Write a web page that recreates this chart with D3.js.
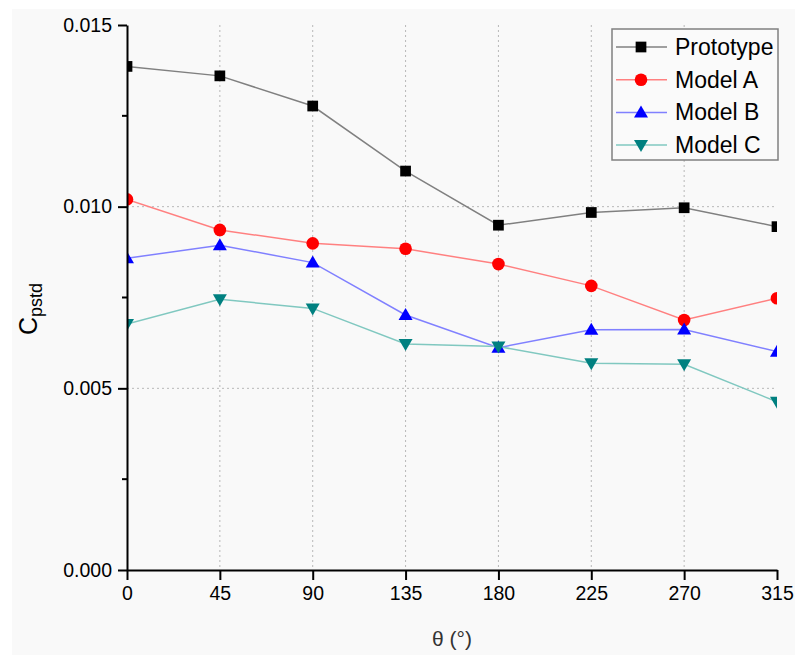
<!DOCTYPE html>
<html>
<head>
<meta charset="utf-8">
<script src="https://cdn.jsdelivr.net/npm/d3@7"></script>
<style>
  body { margin: 0; background: #fff; }
  text { font-family: "Liberation Sans", Arial, sans-serif; }
</style>
</head>
<body>
<div id="chart"></div>
<script>
// angles (deg) and Cpstd values
var angles = [0, 45, 90, 135, 180, 225, 270, 315];
var prototype = [0.01386, 0.01360, 0.01277, 0.01098, 0.00949, 0.00984, 0.00997, 0.00945];
var modelA = [0.01020, 0.00936, 0.00899, 0.00884, 0.00842, 0.00782, 0.00688, 0.00748];
var modelB = [0.00858, 0.00894, 0.00846, 0.00702, 0.00612, 0.00661, 0.00662, 0.00601];
var modelC = [0.00677, 0.00745, 0.00720, 0.00622, 0.00615, 0.00569, 0.00566, 0.00463];
var yTicks = [0.000, 0.005, 0.010, 0.015];
var seriesNames = ["Prototype", "Model A", "Model B", "Model C"];

var series = [
  { name: seriesNames[0], values: prototype, line: "#808080", fill: "#000000", shape: "square" },
  { name: seriesNames[1], values: modelA, line: "#ff8080", fill: "#ff0000", shape: "circle" },
  { name: seriesNames[2], values: modelB, line: "#8080ff", fill: "#0000ff", shape: "up" },
  { name: seriesNames[3], values: modelC, line: "#80c8c0", fill: "#008080", shape: "down" }
];

var W = 795, H = 655;
var pL = 127, pR = 777, pT = 25, pB = 570;

var svg = d3.select("#chart").append("svg").attr("width", W).attr("height", H);

svg.append("rect").attr("x", 12).attr("y", 9).attr("width", W - 12).attr("height", H - 9)
  .attr("fill", "#f9f9f9");

var x = d3.scaleLinear().domain([0, 315]).range([pL, pR]);
var y = d3.scaleLinear().domain([0, 0.015]).range([pB, pT]);

svg.append("defs").append("clipPath").attr("id", "clip")
  .append("rect").attr("x", pL).attr("y", pT).attr("width", pR - pL).attr("height", pB - pT);

// grid
var grid = svg.append("g");
grid.selectAll("line.vg").data(angles.slice(1, -1)).enter().append("line")
  .attr("x1", function(d) { return x(d); }).attr("x2", function(d) { return x(d); })
  .attr("y1", pT).attr("y2", pB)
  .attr("stroke", "#b8b8b8").attr("stroke-width", 1).attr("stroke-dasharray", "2,3");
grid.selectAll("line.hg").data([0.005, 0.010]).enter().append("line")
  .attr("x1", pL).attr("x2", pR)
  .attr("y1", function(d) { return y(d); }).attr("y2", function(d) { return y(d); })
  .attr("stroke", "#b8b8b8").attr("stroke-width", 1).attr("stroke-dasharray", "2,3");

// symbols
function symbolPath(shape) {
  if (shape === "square") return d3.symbol().type(d3.symbolSquare).size(115)();
  if (shape === "circle") return d3.symbol().type(d3.symbolCircle).size(125)();
  if (shape === "up") return "M0,-7L7,5L-7,5Z";
  return "M-7,-5L7,-5L0,7Z";
}

var plot = svg.append("g").attr("clip-path", "url(#clip)");
var line = d3.line().x(function(d, i) { return x(angles[i]); }).y(function(d) { return y(d); });

series.forEach(function(s) {
  plot.append("path").datum(s.values).attr("d", line)
    .attr("fill", "none").attr("stroke", s.line).attr("stroke-width", 1.5);
});
series.forEach(function(s) {
  plot.selectAll(null).data(s.values).enter().append("path")
    .attr("transform", function(d, i) { return "translate(" + x(angles[i]) + "," + y(d) + ")"; })
    .attr("d", symbolPath(s.shape))
    .attr("fill", s.fill);
});

// axes
var xAxis = d3.axisBottom(x).tickValues(angles).tickSize(10).tickPadding(6).tickSizeOuter(0);
var gx = svg.append("g").attr("transform", "translate(0," + pB + ")").call(xAxis);
gx.select(".domain").attr("stroke", "#000").attr("stroke-width", 2);
gx.selectAll(".tick line").attr("stroke", "#000").attr("stroke-width", 2);
gx.selectAll(".tick text").attr("font-size", 19.5).attr("fill", "#000")
  .attr("font-family", "Liberation Sans, Arial, sans-serif");

var yAxis = d3.axisLeft(y).tickValues(yTicks).tickFormat(d3.format(".3f")).tickSize(9).tickPadding(6).tickSizeOuter(0);
var gy = svg.append("g").attr("transform", "translate(" + pL + ",0)").call(yAxis);
gy.select(".domain").attr("stroke", "#000").attr("stroke-width", 2);
gy.selectAll(".tick line").attr("stroke", "#000").attr("stroke-width", 2);
gy.selectAll(".tick text").attr("font-size", 19.5).attr("fill", "#000")
  .attr("font-family", "Liberation Sans, Arial, sans-serif");

// minor y ticks
gy.selectAll("line.minor").data([0.0025, 0.0075, 0.0125]).enter().append("line")
  .attr("x1", -5).attr("x2", 0)
  .attr("y1", function(d) { return y(d); }).attr("y2", function(d) { return y(d); })
  .attr("stroke", "#000").attr("stroke-width", 2);

// axis titles
svg.append("text").attr("x", 452).attr("y", 646).attr("text-anchor", "middle")
  .attr("font-size", 21).attr("fill", "#333").text("θ (°)");

var yt = svg.append("text").attr("transform", "translate(37,309) rotate(-90)")
  .attr("text-anchor", "middle").attr("fill", "#000");
yt.append("tspan").attr("font-size", 25).text("C");
yt.append("tspan").attr("font-size", 18).attr("dy", 5).text("pstd");

// legend
var lg = svg.append("g");
lg.append("rect").attr("x", 612).attr("y", 29).attr("width", 166).attr("height", 131)
  .attr("fill", "#fafafa").attr("stroke", "#808080").attr("stroke-width", 1.5);
series.forEach(function(s, i) {
  var cy = 47 + i * 32.7;
  lg.append("line").attr("x1", 616).attr("x2", 667).attr("y1", cy).attr("y2", cy)
    .attr("stroke", s.line).attr("stroke-width", 1.5);
  lg.append("path").attr("transform", "translate(641," + cy + ")")
    .attr("d", symbolPath(s.shape)).attr("fill", s.fill);
  lg.append("text").attr("x", 675).attr("y", cy + 8).attr("font-size", 23).attr("fill", "#000")
    .text(s.name);
});
</script>
</body>
</html>
